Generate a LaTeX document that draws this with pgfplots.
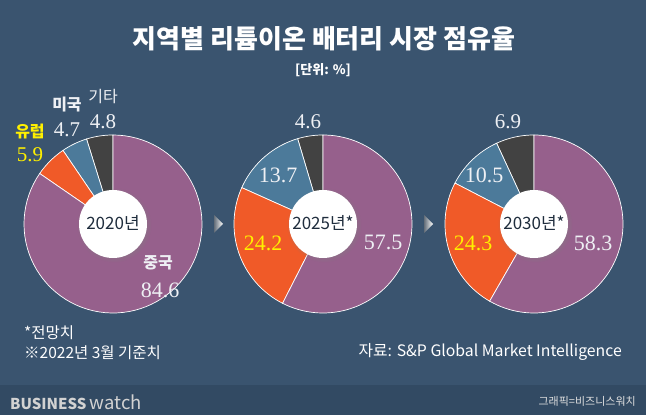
\documentclass[border=0pt]{standalone}
\usepackage{pgfplots}
\pgfplotsset{compat=1.18}
\usepgfplotslibrary{polar}
\usetikzlibrary{shadows}
\usepackage{fontspec}
\setmainfont{Noto Sans CJK KR}
\newfontfamily\numf{Liberation Serif}
\definecolor{bg}{HTML}{3A546F}
\definecolor{strip}{HTML}{324A63}
\definecolor{cChina}{HTML}{96608C}
\definecolor{cEU}{HTML}{F05A28}
\definecolor{cUS}{HTML}{4C7A9A}
\definecolor{cEtc}{HTML}{424242}
\definecolor{cYel}{HTML}{FFF000}
\definecolor{cTxt}{HTML}{EEF0F4}
\definecolor{cNavy}{HTML}{1F2D3D}

% #1 cumulative start (%), #2 share (%), #3 colour ; slices run counter-clockwise from 12 o'clock
\newcommand{\slice}[3]{%
  \addplot[fill=#3, draw=white, line width=0.7pt, domain={90+3.6*(#1)}:{90+3.6*(#1+#2)}, samples=80]
    {89} -- (axis cs:0,0) -- cycle;
}
\pgfplotsset{donut/.style={width=178pt, height=178pt, scale only axis, hide axis,
  ymin=0, ymax=89, xmin=0, xmax=360, clip=false, anchor=center}}

\begin{document}
\begin{tikzpicture}[x=1pt,y=1pt]
\fill[bg] (0,0) rectangle (646,415);
\fill[strip] (0,0) rectangle (646,30);

% title
\node[text=white, font=\bfseries\fontsize{26}{28}\selectfont] at (324,376) {지역별 리튬이온 배터리 시장 점유율};
\node[text=white, font=\bfseries\fontsize{13}{15}\selectfont] at (323,345) {[단위: \%]};

% 2020: others, US, Europe, China
\begin{polaraxis}[donut, at={(113pt,191pt)}]
\slice{0}{4.8}{cEtc}
\slice{4.8}{4.7}{cUS}
\slice{9.5}{5.9}{cEU}
\slice{15.4}{84.6}{cChina}
\end{polaraxis}
% 2025
\begin{polaraxis}[donut, at={(323pt,191pt)}]
\slice{0}{4.6}{cEtc}
\slice{4.6}{13.7}{cUS}
\slice{18.3}{24.2}{cEU}
\slice{42.5}{57.5}{cChina}
\end{polaraxis}
% 2030
\begin{polaraxis}[donut, at={(534pt,191pt)}]
\slice{0}{6.9}{cEtc}
\slice{6.9}{10.5}{cUS}
\slice{17.4}{24.3}{cEU}
\slice{41.7}{58.3}{cChina}
\end{polaraxis}

% centre discs
\foreach \cx in {113, 323, 534}{
  \fill[white, circular drop shadow={shadow xshift=1pt, shadow yshift=-1pt, opacity=0.35}] (\cx,191) circle (34);
}
\node[text=cNavy, font=\fontsize{17}{19}\selectfont] at (113,192) {2020년};
\node[text=cNavy, font=\fontsize{17}{19}\selectfont] at (323,192) {2025년*};
\node[text=cNavy, font=\fontsize{17}{19}\selectfont] at (534,192) {2030년*};

% arrows
\foreach \ax in {214, 424}{
  \shade[left color=gray!60!bg, right color=white] (\ax,182) -- (\ax+9,191) -- (\ax,200) -- cycle;
}

% 2020 labels
\node[text=cTxt, font=\fontsize{16}{18}\selectfont] at (103,318) {기타};
\node[text=cTxt, font=\numf\fontsize{21}{23}\selectfont] at (103,293) {4.8};
\node[text=cTxt, font=\bfseries\fontsize{16}{18}\selectfont] at (67,310) {미국};
\node[text=cTxt, font=\numf\fontsize{21}{23}\selectfont] at (67,285) {4.7};
\node[text=cYel, font=\bfseries\fontsize{16}{18}\selectfont] at (30,283) {유럽};
\node[text=cYel, font=\numf\fontsize{21}{23}\selectfont] at (30,260) {5.9};
\node[text=cTxt, font=\bfseries\fontsize{16}{18}\selectfont] at (158,152) {중국};
\node[text=cTxt, font=\numf\fontsize{22}{24}\selectfont] at (160,125) {84.6};
% 2025 labels
\node[text=cTxt, font=\numf\fontsize{21}{23}\selectfont] at (308,293) {4.6};
\node[text=cTxt, font=\numf\fontsize{22}{24}\selectfont] at (278,240) {13.7};
\node[text=cYel, font=\numf\fontsize{22}{24}\selectfont] at (263,172) {24.2};
\node[text=cTxt, font=\numf\fontsize{22}{24}\selectfont] at (383,173) {57.5};
% 2030 labels
\node[text=cTxt, font=\numf\fontsize{21}{23}\selectfont] at (508,293) {6.9};
\node[text=cTxt, font=\numf\fontsize{22}{24}\selectfont] at (484,240) {10.5};
\node[text=cYel, font=\numf\fontsize{22}{24}\selectfont] at (473,172) {24.3};
\node[text=cTxt, font=\numf\fontsize{22}{24}\selectfont] at (593,172) {58.3};

% footnotes
\node[anchor=west, text=white, inner sep=0pt, font=\fontsize{15.5}{17}\selectfont] at (24,82) {*전망치};
\node[anchor=west, text=white, inner sep=0pt, font=\fontsize{15.5}{17}\selectfont] at (24,62) {※2022년 3월 기준치};
\node[anchor=east, text=white, inner sep=0pt, font=\fontsize{15.8}{17}\selectfont] at (622,63) {자료: S\&P Global Market Intelligence};

% footer
\node[anchor=west, text=gray!35, inner sep=0pt] at (10,13) {\bfseries\fontsize{15}{16}\selectfont BUSINESS\fontseries{l}\fontsize{18.5}{18}\selectfont\,watch};
\node[anchor=east, text=gray!25, inner sep=0pt, font=\fontsize{11}{12}\selectfont] at (636,14) {그래픽=비즈니스워치};
\end{tikzpicture}
\end{document}
